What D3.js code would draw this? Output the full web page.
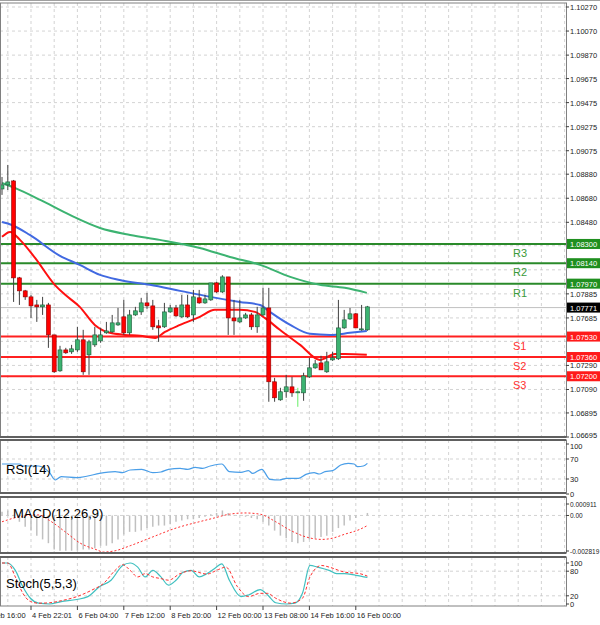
<!DOCTYPE html>
<html><head><meta charset="utf-8">
<script src="https://cdn.jsdelivr.net/npm/d3@7"></script>
<style>body{margin:0;background:#fff}svg{display:block;font-family:"Liberation Sans",Arial,sans-serif}</style>
</head><body><svg id="c" width="600" height="625"></svg>
<script>
// candles: [open, high, low, close]
const candles = [
[1.08757,1.08857,1.08708,1.08791],[1.08791,1.08957,1.08749,1.08816],[1.08824,1.08832,1.07818,1.08018],
[1.08018,1.08026,1.07793,1.07910],[1.07910,1.07918,1.07835,1.07860],[1.07860,1.07877,1.07685,1.07785],
[1.07793,1.07835,1.07652,1.07777],[1.07777,1.07860,1.07710,1.07793],[1.07793,1.07810,1.07436,1.07544],
[1.07544,1.07544,1.07228,1.07237],[1.07245,1.07453,1.07237,1.07419],[1.07419,1.07436,1.07386,1.07395],
[1.07403,1.07461,1.07386,1.07428],[1.07419,1.07611,1.07403,1.07503],[1.07503,1.07586,1.07212,1.07237],
[1.07378,1.07503,1.07212,1.07486],[1.07461,1.07611,1.07444,1.07544],[1.07494,1.07602,1.07478,1.07544],
[1.07561,1.07652,1.07553,1.07577],[1.07569,1.07710,1.07561,1.07644],[1.07627,1.07768,1.07619,1.07644],
[1.07694,1.07835,1.07544,1.07561],[1.07561,1.07752,1.07544,1.07710],[1.07710,1.07777,1.07702,1.07744],
[1.07735,1.07852,1.07710,1.07810],[1.07810,1.07893,1.07760,1.07785],[1.07785,1.07835,1.07586,1.07611],
[1.07619,1.07669,1.07486,1.07602],[1.07611,1.07810,1.07602,1.07735],[1.07735,1.07793,1.07727,1.07768],
[1.07768,1.07793,1.07694,1.07702],[1.07694,1.07877,1.07685,1.07793],[1.07793,1.07877,1.07685,1.07694],
[1.07710,1.07918,1.07652,1.07860],[1.07852,1.07918,1.07802,1.07810],[1.07810,1.07877,1.07802,1.07843],
[1.07835,1.07976,1.07827,1.07976],[1.07976,1.07985,1.07893,1.07901],[1.07901,1.08040,1.07893,1.08026],
[1.08026,1.08026,1.07544,1.07685],[1.07685,1.07835,1.07544,1.07660],[1.07652,1.07835,1.07644,1.07685],
[1.07685,1.07727,1.07677,1.07710],[1.07710,1.07727,1.07586,1.07611],[1.07611,1.07777,1.07561,1.07710],
[1.07710,1.07935,1.07702,1.07768],[1.07768,1.07935,1.06988,1.07154],[1.07154,1.07187,1.06988,1.07021],
[1.07004,1.07104,1.06996,1.07071],[1.07071,1.07212,1.07021,1.07112],[1.07112,1.07195,1.07029,1.07062],
[1.07062,1.07104,1.06946,1.07071],[1.07062,1.07229,1.06996,1.07203],[1.07195,1.07353,1.07187,1.07270],
[1.07270,1.07336,1.07262,1.07303],[1.07311,1.07370,1.07253,1.07253],[1.07237,1.07403,1.07228,1.07320],
[1.07336,1.07403,1.07328,1.07353],[1.07345,1.07835,1.07336,1.07602],[1.07602,1.07752,1.07594,1.07669],
[1.07677,1.07768,1.07669,1.07719],[1.07719,1.07727,1.07602,1.07602],[1.07586,1.07793,1.07578,1.07594],
[1.07586,1.07785,1.07578,1.07777]];
// moving averages: [candle index, value]
const maFast = [[0,1.08359],[1.4,1.08400],[3.1,1.08334],[5.7,1.08184],[9.1,1.07960],[10.9,1.07877],[13.4,1.07777],[16,1.07627],[18.6,1.07561],[21.2,1.07544],[23.8,1.07536],[26.4,1.07519],[28.1,1.07569],[30.7,1.07627],[34.1,1.07694],[36.7,1.07752],[38.4,1.07752],[41,1.07752],[43.6,1.07735],[45.3,1.07685],[47.9,1.07586],[51.4,1.07461],[54.8,1.07336],[57.4,1.07386],[59.1,1.07386],[62.9,1.07378]];
const maMid = [[0,1.08483],[1.7,1.08458],[4.8,1.08375],[10,1.08201],[13.4,1.08126],[16.9,1.08043],[20.3,1.08001],[25.5,1.07960],[30.7,1.07910],[35.9,1.07860],[41,1.07818],[44.5,1.07793],[46.2,1.07735],[49.7,1.07627],[53.1,1.07553],[56.6,1.07544],[60,1.07561],[62.9,1.07577]];
const maSlow = [[0,1.08807],[2.2,1.08766],[6.6,1.08666],[11.7,1.08541],[16.9,1.08433],[22.1,1.08375],[27.2,1.08334],[34.1,1.08267],[39.3,1.08192],[44.5,1.08126],[49.7,1.08026],[54.8,1.07960],[59.1,1.07935],[62.9,1.07893]];
const levels = [["R3",1.0830],["R2",1.0814],["R1",1.0797],["S1",1.0753],["S2",1.0736],["S3",1.0720]];
const lastPrice = 1.07771;
const priceTicks = [1.10270,1.10070,1.09870,1.09675,1.09475,1.09275,1.09075,1.08880,1.08680,1.08480,1.08285,1.08085,1.07885,1.07685,1.07490,1.07290,1.07090,1.06895,1.06695];
const rsi = [[0,60],[3,60],[3.6,56],[6.3,56],[8.2,42.7],[9.2,28],[10.2,34.7],[12.9,32.7],[14.8,36],[16.8,41.3],[19.5,44.7],[20.8,42.7],[22.1,48],[24.1,49.3],[26,42.7],[27.4,44],[28.7,49.3],[30.7,51.3],[32,49.3],[33.3,53.3],[34.6,51.3],[35.9,56],[36.6,58],[37.9,60],[39.2,44.7],[41.2,43.3],[42.5,46.7],[43.2,41.3],[44.8,49.3],[46.2,29.3],[47.8,28],[49.1,31.3],[51.1,31.3],[52.4,39.3],[53.8,42.7],[54.7,40],[55.7,44.7],[57,46.7],[58.4,58],[59.7,61.3],[60.7,60],[61.3,54.7],[62.3,56],[63,61.3]];
const macdHist = [0.0003,0.0004,0.00005,-0.0005,-0.0009,-0.0012,-0.0016,-0.0019,-0.0022,-0.0027,-0.0028,-0.0028,-0.0028,-0.0028,-0.0027,-0.0027,-0.0026,-0.0024,-0.0024,-0.0022,-0.0019,-0.0015,-0.0013,-0.0013,-0.0012,-0.0010,-0.0009,-0.0008,-0.0008,-0.0007,-0.0005,-0.0004,-0.0003,-0.0003,-0.0002,-0.0001,0.0001,0.0002,0.0004,0.0002,-0.00005,-0.00003,-0.0001,-0.0002,-0.0003,-0.0005,-0.0008,-0.0012,-0.0016,-0.0018,-0.0021,-0.0022,-0.0021,-0.0019,-0.0018,-0.0017,-0.0016,-0.0013,-0.0010,-0.0008,-0.0004,-0.0002,0.0000,0.0002];
const macdSignal = [[0,-0.0005],[3,-0.0001],[6.3,0.00005],[8.2,-0.0004],[10.9,-0.0013],[13.5,-0.0022],[16.2,-0.0027],[17.5,-0.0029],[19.5,-0.0028],[22.1,-0.0024],[26,-0.0017],[30,-0.0010],[34,-0.0005],[36.6,-0.0002],[39.2,0.0001],[41.9,0.0002],[44.5,0.0001],[47.2,-0.0005],[49.8,-0.0012],[52.4,-0.0017],[55.1,-0.0019],[57,-0.0018],[59,-0.0015],[61.7,-0.0011],[63,-0.0008]];
const stochK = [[0,100],[1,100],[2.3,82],[3.6,42],[4.9,14],[6.3,2],[8.2,0],[10.2,6],[12.9,11],[14.8,18],[16.8,42],[18.8,58],[20.8,94],[22.1,100],[23.4,90],[24.7,66],[26,82],[27.4,66],[28.7,46],[30,58],[31.3,78],[32.6,82],[34,66],[35.3,74],[36.6,86],[37.9,98],[39.2,58],[41.2,18],[42.5,22],[44.5,35],[45.8,22],[47.2,3],[49.1,0],[50.5,2],[51.8,26],[53.1,94],[54.4,90],[56.4,82],[57.7,74],[59,74],[61,70],[63,65]];
const stochD = [[0,100],[1,100],[2.3,66],[3.6,26],[4.9,6],[6.3,2],[8.2,3],[10.2,8],[12.9,18],[15.5,34],[17.5,50],[19.5,82],[20.8,96],[22.1,82],[23.4,66],[24.7,74],[26,66],[27.4,62],[28.7,58],[30.7,74],[32.6,81],[35.3,73],[37.3,84],[38.6,90],[40.6,42],[42.5,18],[44.5,26],[45.8,26],[47.2,14],[49.8,2],[51.8,14],[53.1,66],[55.1,94],[56.4,90],[59,78],[61.7,74],[63,68]];
const timeLabels = [[-3,"3 Feb 16:00"],[5,"4 Feb 22:01"],[13,"6 Feb 04:00"],[21,"7 Feb 12:00"],[29,"8 Feb 20:00"],[37,"12 Feb 00:00"],[45,"13 Feb 08:00"],[53,"14 Feb 16:00"],[61,"16 Feb 00:00"]];

const svg = d3.select("#c");
const W = 566;
const x = d3.scaleLinear().domain([0,63]).range([2,367.4]);
const y = d3.scaleLinear().domain([1.06695,1.10270]).range([437,7]);
const yR = d3.scaleLinear().domain([0,100]).range([494,444]);
const yM = d3.scaleLinear().domain([-0.002819,0.000911]).range([551,504]);
const yS = d3.scaleLinear().domain([0,100]).range([604,563]);
const gridC = "#c8c8c8";
function vgrid(t,b){ for(let i=-3;i<=100;i+=4){const xx=x(i); if(xx>0&&xx<W) svg.append("line").attr("x1",xx).attr("x2",xx).attr("y1",t).attr("y2",b).attr("stroke",gridC).attr("stroke-dasharray","3,3").attr("stroke-width",0.8);} }
function hgrid(vals,sc){ vals.forEach(v=>svg.append("line").attr("x1",0).attr("x2",W).attr("y1",sc(v)).attr("y2",sc(v)).attr("stroke",gridC).attr("stroke-dasharray","3,3").attr("stroke-width",0.8)); }
vgrid(3,437); vgrid(440,493); vgrid(497,553); vgrid(557,606);
hgrid(priceTicks,y); hgrid([70,30],yR); hgrid([0],yM); hgrid([80,20],yS);

svg.append("line").attr("x1",0).attr("x2",W).attr("y1",y(lastPrice)).attr("y2",y(lastPrice)).attr("stroke","#c0c0c0").attr("stroke-width",1);

levels.forEach(([n,v])=>{
  const r=n[0]==="R"; const col=r?"#2a8a2a":"#ff2020";
  svg.append("line").attr("x1",0).attr("x2",W).attr("y1",y(v)).attr("y2",y(v)).attr("stroke",col).attr("stroke-width",2);
  svg.append("text").attr("x",513).attr("y",y(v)+13).attr("font-size",11).attr("fill",r?"#3a9a3a":"#ff3030").text(n);
});

const ln = sc => d3.line().x(d=>x(d[0])).y(d=>sc(d[1])).curve(d3.curveMonotoneX);
svg.append("path").datum(maSlow).attr("d",ln(y)).attr("fill","none").attr("stroke","#3cb371").attr("stroke-width",2);
svg.append("path").datum(maMid).attr("d",ln(y)).attr("fill","none").attr("stroke","#4169e1").attr("stroke-width",2);
svg.append("path").datum(maFast).attr("d",ln(y)).attr("fill","none").attr("stroke","#ff1010").attr("stroke-width",2);

candles.forEach((c,i)=>{
  const [o,h,l,cl]=c; const up=cl>=o; const xx=x(i);
  svg.append("line").attr("x1",xx).attr("x2",xx).attr("y1",y(h)).attr("y2",y(l)).attr("stroke",i===51?"#66ee66":"#404040").attr("stroke-width",1);
  const t=y(Math.max(o,cl)), b=y(Math.min(o,cl));
  svg.append("rect").attr("x",xx-2).attr("y",t).attr("width",4).attr("height",Math.max(1,b-t))
    .attr("fill",up?"#3cb371":"#ff0000").attr("stroke",up?"#1e5a3a":"#8b0000").attr("stroke-width",0.6);
});

svg.append("path").datum(rsi).attr("d",ln(yR)).attr("fill","none").attr("stroke","#4a9ee8").attr("stroke-width",1.2);
macdHist.forEach((v,i)=>{ svg.append("line").attr("x1",x(i)).attr("x2",x(i)).attr("y1",yM(0)).attr("y2",yM(v)).attr("stroke","#c0c0c0").attr("stroke-width",1.5); });
svg.append("path").datum(macdSignal).attr("d",ln(yM)).attr("fill","none").attr("stroke","#ff3030").attr("stroke-width",1).attr("stroke-dasharray","2,2");
svg.append("path").datum(stochK).attr("d",ln(yS)).attr("fill","none").attr("stroke","#40c0c0").attr("stroke-width",1.2);
svg.append("path").datum(stochD).attr("d",ln(yS)).attr("fill","none").attr("stroke","#ff3030").attr("stroke-width",1).attr("stroke-dasharray","3,2");

svg.append("text").attr("x",6).attr("y",474).attr("font-size",13).text("RSI(14)");
svg.append("text").attr("x",13).attr("y",518).attr("font-size",13).text("MACD(12,26,9)");
svg.append("text").attr("x",6).attr("y",588).attr("font-size",13).text("Stoch(5,5,3)");

[[3,437],[440,493],[497,553],[557,606]].forEach(([t,b])=>{
  svg.append("rect").attr("x",0.5).attr("y",t).attr("width",W).attr("height",b-t).attr("fill","none").attr("stroke","#808080").attr("stroke-width",1);
});
[437,440,493,497,553,557].forEach(v=>svg.append("line").attr("x1",0).attr("x2",W).attr("y1",v).attr("y2",v).attr("stroke","#606060").attr("stroke-width",2));

const fs=7.5;
function axisLabels(vals,sc,fmt,f,dy){ vals.forEach(v=>{
  svg.append("line").attr("x1",W).attr("x2",W+3).attr("y1",sc(v)).attr("y2",sc(v)).attr("stroke","#404040");
  svg.append("text").attr("x",W+4).attr("y",sc(v)+3+(dy?dy(v):0)).attr("font-size",f||fs).attr("fill","#222").text(fmt(v)); }); }
const covered = v => levels.some(l=>Math.abs(y(l[1])-y(v))<8) || Math.abs(y(lastPrice)-y(v))<8;
axisLabels(priceTicks.filter(v=>!covered(v)),y,d3.format(".5f"),null,v=>v===1.06695?-2:0);
axisLabels([100,70,30,0],yR,d=>d,null,v=>v===100?2:0);
axisLabels([0.000911,0,-0.002819],yM,d=>d===0?"0.00":d.toFixed(6),6.5);
axisLabels([100,80,20,0],yS,d=>d);

levels.forEach(([n,v])=>{
  const r=n[0]==="R";
  svg.append("rect").attr("x",W+1).attr("y",y(v)-5).attr("width",33).attr("height",10).attr("fill",r?"#1f8f1f":"#ff1a1a");
  svg.append("text").attr("x",W+4).attr("y",y(v)+3).attr("font-size",fs).attr("fill","#fff").text(v.toFixed(5));
});
svg.append("rect").attr("x",W+1).attr("y",y(lastPrice)-5).attr("width",33).attr("height",10).attr("fill","#000");
svg.append("text").attr("x",W+4).attr("y",y(lastPrice)+3).attr("font-size",fs).attr("fill","#fff").text(lastPrice.toFixed(5));

timeLabels.forEach(([i,t])=>{
  svg.append("line").attr("x1",x(i)).attr("x2",x(i)).attr("y1",606).attr("y2",610).attr("stroke","#404040");
  svg.append("text").attr("x",x(i)+1).attr("y",618).attr("font-size",fs).attr("fill","#222").text(t);
});
svg.append("line").attr("x1",0).attr("x2",600).attr("y1",0.5).attr("y2",0.5).attr("stroke","#a0a0a0");
</script></body></html>
